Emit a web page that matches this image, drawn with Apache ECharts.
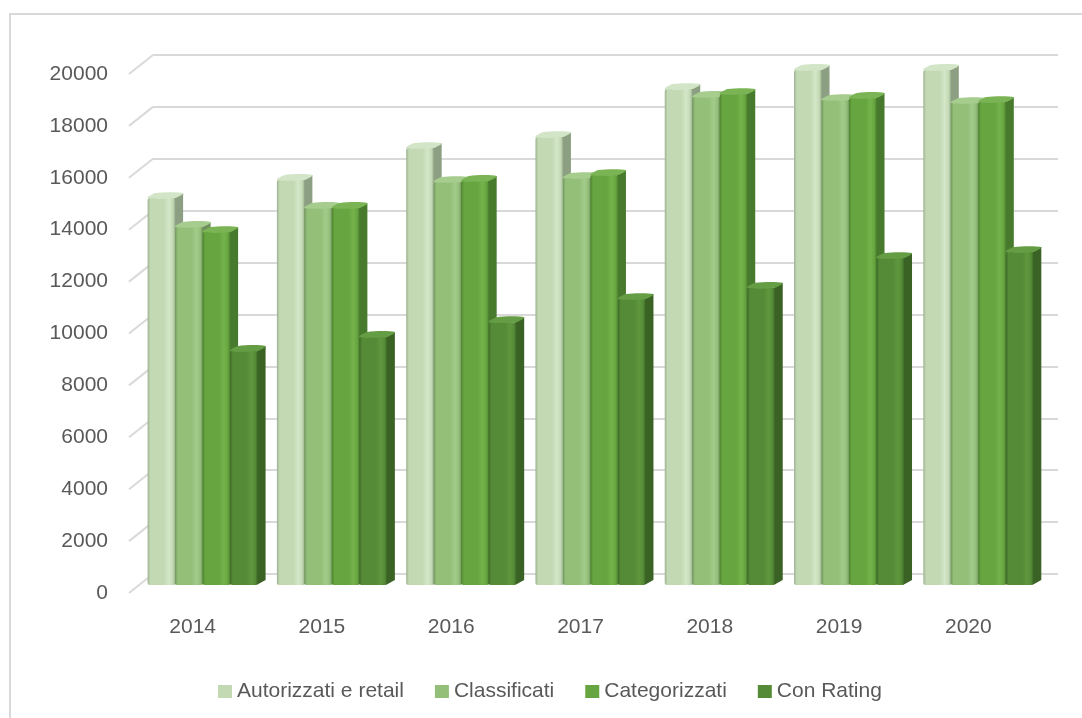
<!DOCTYPE html>
<html>
<head>
<meta charset="utf-8">
<script src="https://cdn.jsdelivr.net/npm/echarts@6/dist/echarts.min.js"></script>
<style>
html,body{margin:0;padding:0;background:#fff;}
#chart{width:1082px;height:718px;}
</style>
</head>
<body>
<div id="chart"></div>
<script>
const categories = ['2014','2015','2016','2017','2018','2019','2020'];
const autorizzati = [14910, 15610, 16840, 17260, 19110, 19850, 19850];
const classificati = [13800, 14530, 15530, 15680, 18810, 18690, 18570];
const categorizzati = [13600, 14530, 15570, 15800, 18920, 18770, 18610];
const conRating = [9020, 9560, 10130, 11020, 11450, 12600, 12830];
const seriesNames = ['Autorizzati e retail', 'Classificati', 'Categorizzati', 'Con Rating'];
const yTicks = [0, 2000, 4000, 6000, 8000, 10000, 12000, 14000, 16000, 18000, 20000];

const palette = [
  {base:'#c3d9b4', dark:'#9db291', light:'#d4e7c8', side:'#8c9f83', top:'#d3e5c7'},
  {base:'#93bf79', dark:'#739a5d', light:'#a3cb8a', side:'#6f8f5c', top:'#a6cc8e'},
  {base:'#67a540', dark:'#4e8430', light:'#74b34b', side:'#477a2c', top:'#7ab454'},
  {base:'#558b36', dark:'#3e6a27', light:'#5f973e', side:'#3a6224', top:'#659d45'}
];

const FONT = 'Liberation Sans';
const TXT = '#595959';

function makeRender(si) {
  const c = palette[si];
  return function (params, api) {
    const idx = api.value(0);
    const val = api.value(1);
    const base = api.coord([idx, 0]);
    const topP = api.coord([idx, val]);
    const band = api.size([1, 0])[0];
    const bw = band * 0.2127;
    const dx = band * 0.077;
    const dyOff = -8;
    const sd = 8, sv = 5;
    const x0 = base[0] + dx - 2 * bw + si * bw;
    const x1 = x0 + bw;
    const yb = base[1] + dyOff;
    const yt = topP[1] + dyOff;
    const grad = new echarts.graphic.LinearGradient(0, 0, 1, 0, [
      {offset: 0, color: c.dark},
      {offset: 0.1, color: c.base},
      {offset: 0.6, color: c.base},
      {offset: 0.78, color: c.light},
      {offset: 0.92, color: c.base},
      {offset: 1, color: c.dark}
    ]);
    return {
      type: 'group',
      children: [
        {type: 'polygon', shape: {points: [[x1 - 1, yt], [x1 + sd, yt - sv], [x1 + sd, yb - sv], [x1 - 1, yb]]},
         style: {fill: c.side}},
        {type: 'rect', shape: {x: x0, y: yt, width: bw, height: yb - yt, r: [2, 2, 2, 2]},
         style: {fill: grad}},
        {type: 'polygon', shape: {points: [[x0, yt], [x0 + sd, yt - sv], [x1 + sd, yt - sv], [x1, yt]], smooth: 0.3},
         style: {fill: c.top}}
      ]
    };
  };
}

const dataSets = [autorizzati, classificati, categorizzati, conRating];

const barSeries = dataSets.map((arr, si) => ({
  type: 'custom',
  name: seriesNames[si],
  xAxisIndex: 0,
  yAxisIndex: 0,
  renderItem: makeRender(si),
  itemStyle: {color: palette[si].base},
  encode: {x: 0, y: 1},
  data: arr.map((v, i) => [i, v]),
  z: 5
}));

const diagSeries = {
  type: 'custom',
  name: 'diag',
  xAxisIndex: 0,
  yAxisIndex: 0,
  silent: true,
  renderItem: function (params, api) {
    const v = api.value(1);
    const p = api.coord([0, v]);
    const x = params.coordSys.x;
    return {
      type: 'line',
      shape: {x1: x + 1, y1: p[1], x2: x + 25, y2: p[1] - 19},
      style: {stroke: '#d9d9d9', lineWidth: 2}
    };
  },
  encode: {x: 0, y: 1},
  data: yTicks.map(v => [0, v]),
  z: 1
};

const chart = echarts.init(document.getElementById('chart'), null, {renderer: 'canvas'});
chart.setOption({
  backgroundColor: '#ffffff',
  animation: false,
  graphic: [{
    type: 'rect',
    shape: {x: 10, y: 14, width: 1100, height: 730},
    style: {fill: 'none', stroke: '#d9d9d9', lineWidth: 2},
    z: 0, silent: true
  }],
  legend: {
    data: seriesNames,
    left: 213,
    top: 676,
    icon: 'rect',
    itemWidth: 14,
    itemHeight: 13,
    itemGap: 31,
    textStyle: {color: TXT, fontSize: 21, fontFamily: FONT}
  },
  grid: [
    {left: 128, right: 49, top: 74, bottom: 125},
    {left: 153, right: 24, top: 55, bottom: 144}
  ],
  xAxis: [
    {type: 'category', gridIndex: 0, data: categories,
     axisLine: {show: false}, axisTick: {show: false},
     axisLabel: {color: TXT, fontSize: 21, fontFamily: FONT, margin: 24},
     splitLine: {show: false}},
    {type: 'category', gridIndex: 1, data: categories, show: false}
  ],
  yAxis: [
    {type: 'value', gridIndex: 0, min: 0, max: 20000, interval: 2000,
     axisLine: {show: false}, axisTick: {show: false},
     axisLabel: {color: TXT, fontSize: 21, fontFamily: FONT, margin: 20,
                 formatter: function (v) { return String(v); }},
     splitLine: {show: false}},
    {type: 'value', gridIndex: 1, min: 0, max: 20000, interval: 2000,
     axisLine: {show: false}, axisTick: {show: false},
     axisLabel: {show: false},
     splitLine: {show: true, lineStyle: {color: '#d9d9d9', width: 2}}}
  ],
  series: [diagSeries].concat(barSeries)
});
</script>
</body>
</html>
